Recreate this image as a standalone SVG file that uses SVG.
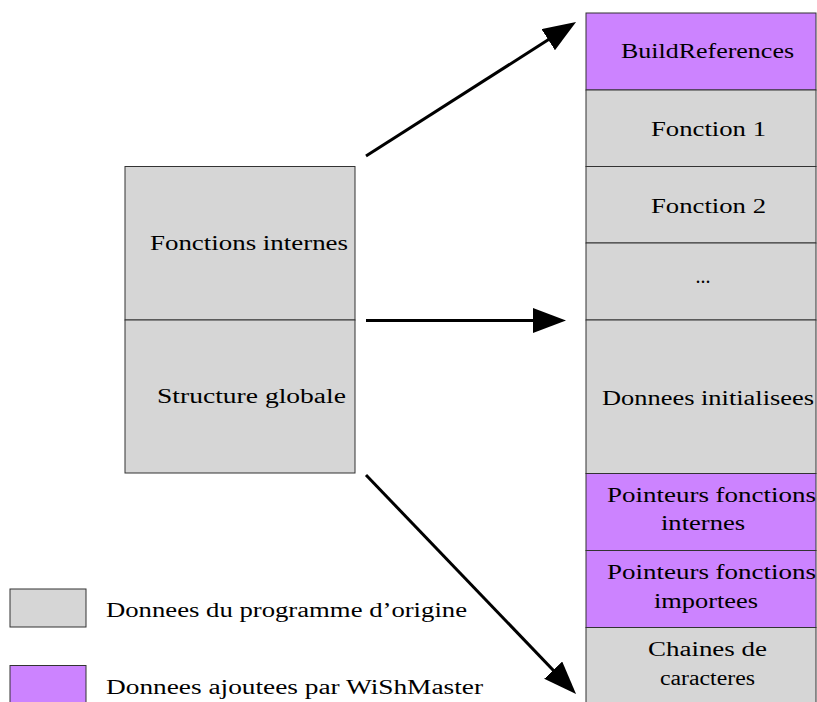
<svg xmlns="http://www.w3.org/2000/svg" width="817" height="702" viewBox="0 0 817 702">
<style>
.g{fill:#d6d6d6;stroke:#333;stroke-width:1}
.p{fill:#cc83ff;stroke:#333;stroke-width:1}
text{font-family:"Liberation Serif","DejaVu Serif",serif;font-size:20px;fill:#000}
.c{stroke:#000;stroke-width:3;fill:none;marker-end:url(#ah)}
</style>
<defs>
<marker id="ah" markerUnits="userSpaceOnUse" markerWidth="34" markerHeight="26" refX="25" refY="12.5" orient="auto">
<path d="M0,0 L33,12.5 L0,25 z" fill="#000"/>
</marker>
</defs>
<rect width="817" height="702" fill="#fff"/>
<g id="left">
<rect class="g" x="125" y="166.5" width="230" height="153.5"/>
<text x="150" y="250" textLength="198" lengthAdjust="spacingAndGlyphs">Fonctions internes</text>
<rect class="g" x="125" y="320" width="230" height="153"/>
<text x="157" y="403" textLength="189" lengthAdjust="spacingAndGlyphs">Structure globale</text>
</g>
<g id="build"><rect class="p" x="586" y="13" width="230" height="77"/>
<text x="621" y="58" textLength="173" lengthAdjust="spacingAndGlyphs">BuildReferences</text></g>
<g id="f1"><rect class="g" x="586" y="90" width="230" height="76.5"/>
<text x="651" y="136" textLength="115" lengthAdjust="spacingAndGlyphs">Fonction 1</text></g>
<g id="f2"><rect class="g" x="586" y="166.5" width="230" height="76.5"/>
<text x="651" y="213" textLength="115" lengthAdjust="spacingAndGlyphs">Fonction 2</text></g>
<g id="dots"><rect class="g" x="586" y="243" width="230" height="77"/>
<text x="703" y="283" text-anchor="middle">...</text></g>
<g id="data"><rect class="g" x="586" y="320" width="230" height="153.5"/>
<text x="602" y="405" textLength="212" lengthAdjust="spacingAndGlyphs">Donnees initialisees</text></g>
<g id="pint"><rect class="p" x="586" y="473.5" width="230" height="77"/>
<text x="607" y="502" textLength="209" lengthAdjust="spacingAndGlyphs">Pointeurs fonctions</text>
<text x="661" y="530" textLength="84" lengthAdjust="spacingAndGlyphs">internes</text></g>
<g id="pimp"><rect class="p" x="586" y="550.5" width="230" height="77"/>
<text x="607" y="579" textLength="209" lengthAdjust="spacingAndGlyphs">Pointeurs fonctions</text>
<text x="654" y="608" textLength="104" lengthAdjust="spacingAndGlyphs">importees</text></g>
<g id="str"><rect class="g" x="586" y="627.5" width="230" height="90"/>
<text x="648" y="656" textLength="119" lengthAdjust="spacingAndGlyphs">Chaines de</text>
<text x="660" y="685" textLength="95" lengthAdjust="spacingAndGlyphs">caracteres</text></g>
<g id="legend">
<rect class="g" x="10" y="589" width="76" height="38"/>
<text x="106" y="617" textLength="361" lengthAdjust="spacingAndGlyphs">Donnees du programme d’origine</text>
<rect class="p" x="10" y="665.5" width="76" height="40"/>
<text x="106" y="694" textLength="377" lengthAdjust="spacingAndGlyphs">Donnees ajoutees par WiShMaster</text>
</g>
<g id="connectors">
<line class="c" x1="366" y1="156" x2="569.3" y2="26.3"/>
<line class="c" x1="366" y1="320.5" x2="558" y2="320.5"/>
<line class="c" x1="366" y1="475" x2="570.5" y2="688.2"/>
</g>
</svg>
